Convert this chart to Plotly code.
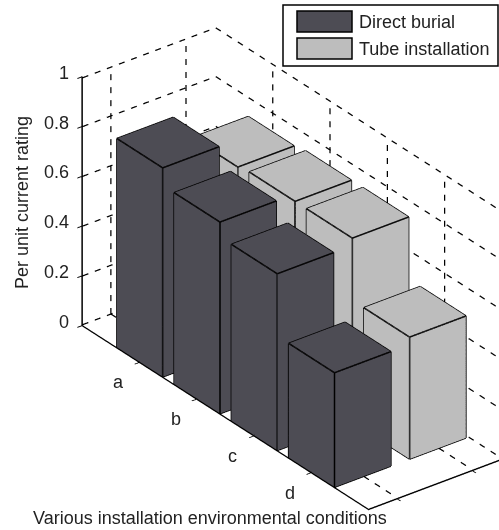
import math
import plotly.graph_objects as go

categories = ["a", "b", "c", "d"]
direct_burial = [0.84, 0.77, 0.71, 0.46]
tube_installation = [0.73, 0.74, 0.74, 0.49]
z_ticks = [0, 0.2, 0.4, 0.6, 0.8, 1]
z_labels = ["0", "0.2", "0.4", "0.6", "0.8", "1"]
series_names = ["Direct burial", "Tube installation"]

DARK = "#4d4c54"
LIGHT = "#bdbdbd"
X_R = [0, 5]
Y_R = [0.62, 2.4]
BW_X, BW_Y = 0.8, 0.75
W, H = 499, 530

def PX(x): return x/W
def PY(y): return 1-y/H

phi = math.radians(-37.4)
theta = math.radians(29.4)
R = 2.0
K = 264.0
SHIFT_R, SHIFT_U = 42.5, -3.0
r = (-math.sin(phi), math.cos(phi), 0)
u = (-math.sin(theta)*math.cos(phi), -math.sin(theta)*math.sin(phi), math.cos(theta))
d = (math.cos(theta)*math.cos(phi), math.cos(theta)*math.sin(phi), math.sin(theta))
c = [-(SHIFT_R*r[i] + SHIFT_U*u[i])/K for i in range(3)]
eye = [c[i] + R*d[i] for i in range(3)]

fig = go.Figure()

def bar(xc, yc, h, color, name):
    x0, x1 = xc-BW_X/2, xc+BW_X/2
    y0, y1 = yc-BW_Y/2, yc+BW_Y/2
    X = [x0, x1, x1, x0, x0, x1, x1, x0]
    Y = [y0, y0, y1, y1, y0, y0, y1, y1]
    Z = [0, 0, 0, 0, h, h, h, h]
    I = [0, 0, 4, 4, 0, 0, 1, 1, 2, 2, 3, 3]
    J = [1, 2, 5, 6, 1, 5, 2, 6, 3, 7, 0, 4]
    K_ = [2, 3, 6, 7, 5, 4, 6, 5, 7, 6, 4, 7]
    fig.add_trace(go.Mesh3d(x=X, y=Y, z=Z, i=I, j=J, k=K_, color=color, flatshading=True,
                            lighting=dict(ambient=1, diffuse=0, specular=0, roughness=1, fresnel=0),
                            hoverinfo="skip", name=name, showlegend=False))
    ex, ey, ez = [], [], []
    for a, b in [(0,1),(1,2),(2,3),(3,0),(4,5),(5,6),(6,7),(7,4),(0,4),(1,5),(2,6),(3,7)]:
        ex += [X[a], X[b], None]; ey += [Y[a], Y[b], None]; ez += [Z[a], Z[b], None]
    fig.add_trace(go.Scatter3d(x=ex, y=ey, z=ez, mode="lines", line=dict(color="black", width=3),
                               hoverinfo="skip", showlegend=False))

for si, (vals, col, nm) in enumerate(zip([direct_burial, tube_installation], [DARK, LIGHT], series_names)):
    for ci, v in enumerate(vals):
        bar(ci+1, si+1, v, col, nm)

# dashed grid on walls and floor: each grid line is cut into short strokes
PX_PER = (68.0, 80.0, 248.0)
DASH_ON, DASH_PERIOD = 6.0, 13.0
INSET = 0.004      # keeps the strokes just inside the axis range so none are clipped
XA, XB = X_R[0]+INSET, X_R[1]-INSET
YA, YB = Y_R[0]+INSET, Y_R[1]-INSET
gx, gy, gz = [], [], []
def seg(a, b):
    length = math.sqrt(sum(((b[i]-a[i])*PX_PER[i])**2 for i in range(3)))
    n = max(1, round(length/DASH_PERIOD))
    for k in range(n):
        t0 = k/n
        t1 = min(1, t0 + DASH_ON/length)
        p = [a[i]+(b[i]-a[i])*t0 for i in range(3)]
        q = [a[i]+(b[i]-a[i])*t1 for i in range(3)]
        gx.extend([p[0], q[0], None]); gy.extend([p[1], q[1], None]); gz.extend([p[2], q[2], None])
for z in z_ticks:
    zz = min(max(z, INSET), 1-INSET)
    seg((XA, YA, zz), (XA, YB, zz))
    seg((XA, YB, zz), (XB, YB, zz))
for i in range(len(categories)):
    seg((i+1, YB, INSET), (i+1, YB, 1-INSET))
    seg((i+1, YA, INSET), (i+1, YB, INSET))
for s in (1, 2):
    seg((XA, s, INSET), (XA, s, 1-INSET))
    seg((XA, s, INSET), (XB, s, INSET))
fig.add_trace(go.Scatter3d(x=gx, y=gy, z=gz, mode="lines", line=dict(color="black", width=2.5),
                           hoverinfo="skip", showlegend=False))

FONT = dict(family="Liberation Sans", size=18, color="#222222")
anns = []
for i, t in enumerate(categories):
    anns.append(dict(x=i+1, y=Y_R[0], z=0, text=t, showarrow=False, xshift=-21, yshift=-20, font=FONT))
for z, t in zip(z_ticks, z_labels):
    anns.append(dict(x=X_R[0], y=Y_R[0], z=z, text=t, showarrow=False, xshift=-11, yshift=4, xanchor="right", font=FONT))

axis_common = dict(showbackground=False, showgrid=False, zeroline=False, showline=True, linecolor="black",
                   linewidth=3, ticks="outside", ticklen=6, tickwidth=2, tickcolor="black",
                   showticklabels=False, showspikes=False, title=dict(text=""))
fig.update_layout(
    width=W, height=H, margin=dict(l=0, r=0, t=0, b=0), paper_bgcolor="white",
    showlegend=False,
    scene=dict(
        domain=dict(x=[0, 1], y=[0, 1]),
        aspectmode="manual", aspectratio=dict(x=1.779, y=0.635, z=1.078),
        camera=dict(projection=dict(type="orthographic"), up=dict(x=0, y=0, z=1),
                    eye=dict(x=eye[0], y=eye[1], z=eye[2]), center=dict(x=c[0], y=c[1], z=c[2])),
        xaxis=dict(range=X_R, tickvals=[1, 2, 3, 4], **axis_common),
        yaxis=dict(range=Y_R, tickvals=[1, 2], **axis_common),
        zaxis=dict(range=[0, 1], tickvals=z_ticks, **axis_common),
        annotations=anns,
    ),
    annotations=[
        dict(text="Per unit current rating", xref="paper", yref="paper", x=PX(22), y=PY(203), showarrow=False, textangle=-90, font=FONT, xanchor="center", yanchor="middle"),
        dict(text="Various installation environmental conditions", xref="paper", yref="paper", x=PX(210), y=PY(518), showarrow=False, font=FONT, xanchor="center", yanchor="middle"),
        dict(text=series_names[0], xref="paper", yref="paper", x=PX(357), y=PY(22), showarrow=False, xanchor="left", yanchor="middle", font=FONT),
        dict(text=series_names[1], xref="paper", yref="paper", x=PX(357), y=PY(49), showarrow=False, xanchor="left", yanchor="middle", font=FONT),
    ],
    shapes=[
        dict(type="rect", xref="paper", yref="paper", x0=PX(283), x1=PX(498), y0=PY(5), y1=PY(66), line=dict(color="black", width=1.5), fillcolor="white"),
        dict(type="rect", xref="paper", yref="paper", x0=PX(297), x1=PX(352), y0=PY(11), y1=PY(32), line=dict(color="black", width=1.5), fillcolor=DARK),
        dict(type="rect", xref="paper", yref="paper", x0=PX(297), x1=PX(352), y0=PY(38), y1=PY(59), line=dict(color="black", width=1.5), fillcolor=LIGHT),
    ],
)
fig.write_html("out.html", post_script="document.body.style.margin='0';", config=dict(displayModeBar=False))
